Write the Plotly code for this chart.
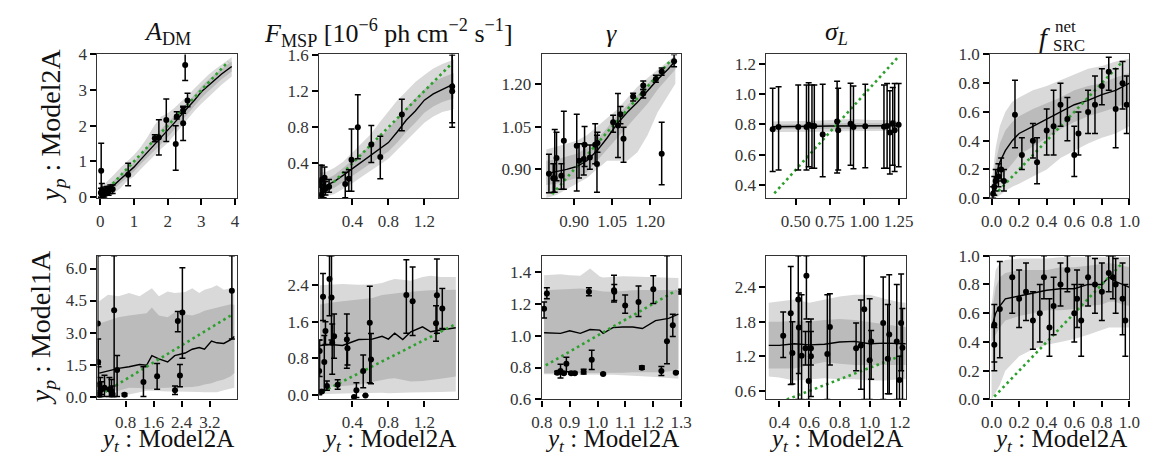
import plotly.graph_objects as go
import numpy as np

W, H = 1156, 459
FONT = "Liberation Serif"
LIGHT = "#d9d9d9"
DARK = "#bbbbbb"
GREEN = "#2ca02c"

# ---------------- data ----------------
# Panel 1: A_DM, Model2A vs Model2A
p1_bx = [0.0, 0.2, 0.4, 0.6, 0.8, 1.0, 1.2, 1.4, 1.6, 1.8, 2.0, 2.2, 2.4, 2.6, 2.8, 3.0, 3.2, 3.4, 3.6, 3.9]
p1_med = [0.05, 0.18, 0.33, 0.50, 0.68, 0.84, 1.05, 1.25, 1.45, 1.65, 1.87, 2.08, 2.30, 2.50, 2.72, 2.95, 3.12, 3.30, 3.45, 3.66]
p1_hi95 = [0.25, 0.45, 0.62, 0.82, 1.0, 1.18, 1.4, 1.68, 2.0, 2.25, 2.35, 2.5, 2.68, 2.85, 3.05, 3.25, 3.42, 3.58, 3.72, 3.92]
p1_lo95 = [-0.03, 0.0, 0.1, 0.25, 0.45, 0.58, 0.78, 0.98, 1.15, 1.35, 1.52, 1.75, 1.98, 2.2, 2.42, 2.62, 2.8, 2.98, 3.15, 3.38]
p1_hi68 = [0.15, 0.3, 0.45, 0.62, 0.82, 0.98, 1.2, 1.42, 1.65, 1.9, 2.08, 2.28, 2.48, 2.66, 2.88, 3.1, 3.28, 3.45, 3.6, 3.8]
p1_lo68 = [0.0, 0.08, 0.22, 0.38, 0.55, 0.72, 0.92, 1.1, 1.28, 1.48, 1.68, 1.9, 2.12, 2.34, 2.56, 2.78, 2.96, 3.14, 3.3, 3.52]
p1_px = [0.02, 0.03, 0.05, 0.08, 0.12, 0.15, 0.2, 0.25, 0.3, 0.37, 0.83, 1.62, 1.74, 1.96, 2.24, 2.27, 2.46, 2.46, 2.52, 2.59]
p1_py = [0.12, 0.74, 0.2, 0.06, 0.1, 0.16, 0.2, 0.18, 0.22, 0.22, 0.63, 1.65, 1.67, 2.16, 1.49, 2.26, 2.07, 2.43, 3.70, 2.71]
p1_plo = [0.0, -0.02, 0.05, 0.0, 0.0, 0.05, 0.08, 0.05, 0.1, 0.1, 0.32, 1.55, 1.18, 1.56, 0.75, 2.19, 1.59, 2.35, 3.27, 2.53]
p1_phi = [0.25, 1.51, 0.38, 0.15, 0.22, 0.28, 0.3, 0.3, 0.34, 0.34, 0.95, 1.75, 2.17, 2.75, 2.0, 2.39, 2.55, 2.52, 4.15, 2.91]
p1_diag = [0.25, 3.8]

# Panel 2: F_MSP
p2_bx = [0.04, 0.1, 0.2, 0.3, 0.4, 0.5, 0.6, 0.7, 0.8, 0.9, 1.0, 1.1, 1.2, 1.3, 1.4, 1.53]
p2_med = [0.12, 0.15, 0.2, 0.27, 0.34, 0.41, 0.48, 0.55, 0.63, 0.75, 0.88, 0.98, 1.1, 1.17, 1.22, 1.28]
p2_hi95 = [0.3, 0.3, 0.35, 0.42, 0.52, 0.62, 0.72, 0.85, 0.98, 1.1, 1.2, 1.3, 1.38, 1.45, 1.5, 1.55]
p2_lo95 = [0.02, 0.03, 0.06, 0.12, 0.18, 0.25, 0.32, 0.38, 0.45, 0.55, 0.65, 0.75, 0.85, 0.92, 0.97, 1.0]
p2_hi68 = [0.2, 0.22, 0.27, 0.35, 0.43, 0.52, 0.6, 0.68, 0.78, 0.9, 1.02, 1.12, 1.22, 1.3, 1.35, 1.4]
p2_lo68 = [0.06, 0.08, 0.13, 0.2, 0.26, 0.33, 0.4, 0.46, 0.53, 0.63, 0.75, 0.85, 0.96, 1.03, 1.08, 1.12]
p2_px = [0.04, 0.05, 0.06, 0.08, 0.09, 0.1, 0.14, 0.32, 0.36, 0.39, 0.46, 0.61, 0.71, 0.95, 1.51, 1.51]
p2_py = [0.16, 0.05, 0.22, 0.1, 0.24, 0.12, 0.14, 0.17, 0.23, 0.44, 0.80, 0.61, 0.47, 0.94, 1.2, 1.25]
p2_plo = [0.0, 0.0, 0.05, 0.02, 0.1, 0.05, 0.08, 0.02, 0.09, 0.09, 0.45, 0.41, 0.23, 0.76, 0.8, 0.85]
p2_phi = [0.38, 0.2, 0.38, 0.2, 0.36, 0.2, 0.22, 0.3, 0.33, 0.78, 1.16, 0.82, 0.70, 1.11, 1.62, 1.6]
p2_diag = [0.05, 1.51]

# Panel 3: gamma
p3_bx = [0.79, 0.83, 0.87, 0.91, 0.95, 0.99, 1.03, 1.07, 1.11, 1.15, 1.19, 1.23, 1.27, 1.30]
p3_med = [0.885, 0.892, 0.9, 0.91, 0.93, 0.965, 1.01, 1.06, 1.1, 1.135, 1.175, 1.215, 1.25, 1.28]
p3_hi95 = [0.97, 0.98, 0.99, 1.0, 1.02, 1.05, 1.08, 1.11, 1.15, 1.19, 1.22, 1.25, 1.28, 1.3]
p3_lo95 = [0.8, 0.81, 0.83, 0.85, 0.87, 0.9, 0.93, 0.93, 0.93, 0.96, 1.02, 1.1, 1.16, 1.2]
p3_hi68 = [0.93, 0.935, 0.945, 0.955, 0.975, 1.005, 1.045, 1.09, 1.125, 1.16, 1.2, 1.235, 1.27, 1.295]
p3_lo68 = [0.845, 0.85, 0.86, 0.87, 0.89, 0.93, 0.97, 1.01, 1.05, 1.09, 1.13, 1.18, 1.22, 1.25]
p3_px = [0.80, 0.817, 0.823, 0.83, 0.849, 0.859, 0.91, 0.919, 0.938, 0.941, 0.962, 0.983, 0.99, 0.992, 1.054, 1.073, 1.083, 1.095, 1.133, 1.173, 1.173, 1.223, 1.246, 1.246, 1.295]
p3_py = [0.885, 0.869, 0.869, 0.94, 0.878, 1.0, 0.983, 0.93, 0.936, 0.986, 0.942, 0.986, 0.919, 0.992, 1.065, 1.054, 1.093, 1.007, 1.155, 1.194, 1.166, 1.217, 1.243, 0.955, 1.279]
p3_plo = [0.818, 0.82, 0.82, 0.86, 0.83, 0.83, 0.824, 0.87, 0.88, 0.91, 0.9, 0.92, 0.82, 0.96, 1.03, 0.942, 1.06, 0.925, 1.14, 1.18, 1.15, 1.205, 1.23, 0.846, 1.26]
p3_phi = [0.953, 0.92, 1.04, 1.03, 0.92, 1.104, 1.093, 0.99, 0.99, 1.05, 0.985, 1.06, 1.02, 1.03, 1.09, 1.166, 1.12, 1.048, 1.167, 1.21, 1.18, 1.23, 1.255, 1.065, 1.303]
p3_diag = [0.813, 1.278]

# Panel 4: sigma_L
p4_bx = [0.33, 0.45, 0.55, 0.65, 0.75, 0.85, 0.95, 1.05, 1.15, 1.25]
p4_med = [0.785, 0.785, 0.787, 0.788, 0.79, 0.79, 0.79, 0.79, 0.79, 0.792]
p4_hi95 = [0.82, 0.82, 0.82, 0.825, 0.83, 0.835, 0.835, 0.83, 0.83, 0.825]
p4_lo95 = [0.75, 0.75, 0.752, 0.752, 0.752, 0.755, 0.755, 0.755, 0.755, 0.758]
p4_hi68 = [0.8, 0.8, 0.802, 0.805, 0.808, 0.81, 0.81, 0.808, 0.808, 0.808]
p4_lo68 = [0.77, 0.77, 0.772, 0.772, 0.772, 0.772, 0.772, 0.772, 0.772, 0.775]
p4_px = [0.333, 0.376, 0.519, 0.579, 0.595, 0.619, 0.636, 0.697, 0.802, 0.81, 0.9, 0.921, 1.007, 1.143, 1.166, 1.186, 1.207, 1.221, 1.25]
p4_py = [0.768, 0.783, 0.783, 0.783, 0.798, 0.79, 0.79, 0.734, 0.819, 0.762, 0.804, 0.783, 0.789, 0.785, 0.79, 0.747, 0.808, 0.762, 0.798]
p4_plo = [0.49, 0.5, 0.5, 0.5, 0.52, 0.51, 0.51, 0.455, 0.48, 0.5, 0.53, 0.508, 0.514, 0.51, 0.51, 0.472, 0.53, 0.49, 0.52]
p4_phi = [1.04, 1.05, 1.06, 1.06, 1.075, 1.06, 1.06, 1.065, 1.086, 1.04, 1.073, 1.054, 1.065, 1.06, 1.07, 1.022, 1.045, 1.07, 1.07]
p4_diag = [0.345, 1.24]

# Panel 5: f_SRC^net
p5_bx = [0.0, 0.03, 0.06, 0.1, 0.15, 0.2, 0.3, 0.4, 0.5, 0.6, 0.7, 0.8, 0.9, 1.0]
p5_med = [0.02, 0.15, 0.25, 0.33, 0.4, 0.45, 0.5, 0.55, 0.6, 0.65, 0.68, 0.72, 0.75, 0.8]
p5_hi95 = [0.1, 0.35, 0.5, 0.6, 0.67, 0.7, 0.75, 0.78, 0.82, 0.86, 0.9, 0.92, 0.95, 0.97]
p5_lo95 = [0.0, 0.0, 0.02, 0.05, 0.08, 0.1, 0.15, 0.2, 0.28, 0.33, 0.38, 0.42, 0.45, 0.5]
p5_hi68 = [0.05, 0.25, 0.38, 0.47, 0.53, 0.57, 0.62, 0.66, 0.7, 0.75, 0.78, 0.8, 0.84, 0.87]
p5_lo68 = [0.0, 0.06, 0.12, 0.18, 0.24, 0.3, 0.36, 0.42, 0.48, 0.53, 0.57, 0.6, 0.63, 0.67]
p5_px = [0.01, 0.02, 0.03, 0.05, 0.07, 0.09, 0.17, 0.22, 0.3, 0.33, 0.4, 0.45, 0.5, 0.55, 0.6, 0.63, 0.7, 0.75, 0.8, 0.85, 0.9, 0.95, 0.98]
p5_py = [0.03, 0.08, 0.12, 0.15, 0.2, 0.12, 0.58, 0.3, 0.4, 0.25, 0.47, 0.5, 0.65, 0.55, 0.3, 0.45, 0.6, 0.65, 0.78, 0.88, 0.62, 0.8, 0.65]
p5_plo = [0.0, 0.02, 0.05, 0.08, 0.12, 0.05, 0.35, 0.2, 0.28, 0.1, 0.3, 0.3, 0.5, 0.4, 0.15, 0.3, 0.45, 0.45, 0.65, 0.75, 0.35, 0.62, 0.45]
p5_phi = [0.08, 0.15, 0.2, 0.24, 0.28, 0.2, 0.82, 0.42, 0.52, 0.42, 0.62, 0.75, 0.8, 0.7, 0.5, 0.6, 0.75, 0.85, 0.9, 0.98, 0.9, 0.95, 0.85]
p5_diag = [0.02, 0.95]

# Panel 6: A_DM, Model1A vs Model2A
p6_bx = [0.05, 0.3, 0.6, 0.9, 1.2, 1.4, 1.55, 1.75, 2.0, 2.2, 2.5, 2.7, 2.9, 3.05, 3.25, 3.4, 3.6, 3.8, 3.9]
p6_med = [1.1, 1.2, 1.32, 1.4, 1.5, 1.47, 1.92, 1.77, 1.62, 1.92, 2.04, 2.22, 2.3, 2.22, 2.6, 2.52, 2.49, 2.67, 2.82]
p6_hi95 = [4.47, 4.77, 4.7, 4.85, 4.7, 4.9, 5.07, 4.7, 4.92, 4.85, 4.9, 5.07, 4.85, 5.0, 5.1, 5.22, 5.0, 5.07, 5.0]
p6_hi68 = [3.42, 3.57, 3.72, 3.8, 3.87, 3.9, 4.17, 3.8, 3.72, 3.95, 3.85, 3.8, 3.9, 4.02, 4.1, 4.17, 4.25, 4.32, 4.3]
p6_lo68 = [0.42, 0.3, 0.27, 0.42, 0.4, 0.35, 0.35, 0.4, 0.42, 0.42, 0.42, 0.45, 0.5, 0.57, 0.62, 0.72, 0.8, 0.95, 1.1]
p6_lo95 = [0.05, 0.05, 0.05, 0.1, 0.2, 0.27, 0.27, 0.25, 0.24, 0.24, 0.24, 0.22, 0.22, 0.2, 0.2, 0.2, 0.3, 0.4, 0.42]
p6_px = [0.01, 0.02, 0.03, 0.04, 0.05, 0.08, 0.12, 0.2, 0.34, 0.4, 0.43, 0.475, 0.56, 0.77, 1.31, 1.7, 2.21, 2.29, 2.35, 2.42, 3.83]
p6_py = [3.42, 1.62, 0.57, 0.2, 0.1, 0.3, 0.35, 0.42, 0.35, 0.25, 0.12, 4.05, 1.25, 0.09, 0.68, 0.95, 0.3, 3.54, 0.99, 3.94, 4.96]
p6_plo = [1.5, 0.5, 0.0, 0.0, 0.0, 0.0, 0.1, 0.0, 0.0, 0.0, 0.0, 0.0, 0.0, 0.03, 0.0, 0.35, 0.1, 3.04, 0.46, 1.8, 2.7]
p6_phi = [6.6, 2.7, 1.4, 0.6, 0.4, 0.9, 0.7, 1.0, 0.9, 0.8, 0.5, 6.6, 1.92, 0.15, 1.4, 1.55, 0.5, 3.99, 1.5, 6.04, 6.6]
p6_diag = [0.08, 3.86]

# Panel 7: F_MSP
p7_bx = [0.04, 0.15, 0.29, 0.4, 0.47, 0.62, 0.73, 0.8, 0.87, 0.96, 1.05, 1.18, 1.27, 1.38, 1.55]
p7_med = [1.08, 1.1, 1.08, 1.15, 1.21, 1.22, 1.28, 1.22, 1.35, 1.21, 1.38, 1.49, 1.38, 1.42, 1.47]
p7_hi95 = [2.4, 2.42, 2.43, 2.42, 2.41, 2.42, 2.45, 2.5, 2.54, 2.52, 2.5, 2.58, 2.61, 2.58, 2.58]
p7_hi68 = [1.98, 2.02, 2.05, 2.07, 2.08, 2.12, 2.19, 2.2, 2.22, 2.24, 2.26, 2.28, 2.29, 2.3, 2.3]
p7_lo68 = [0.15, 0.17, 0.19, 0.21, 0.22, 0.28, 0.33, 0.35, 0.36, 0.32, 0.29, 0.3, 0.32, 0.35, 0.4]
p7_lo95 = [0.01, 0.02, 0.03, 0.03, 0.03, 0.04, 0.04, 0.03, 0.03, 0.04, 0.05, 0.05, 0.06, 0.06, 0.07]
p7_px = [0.03, 0.035, 0.058, 0.073, 0.087, 0.1, 0.116, 0.145, 0.167, 0.175, 0.196, 0.236, 0.338, 0.345, 0.418, 0.444, 0.52, 0.545, 0.593, 0.607, 1.0, 1.07, 1.33, 1.34, 1.4]
p7_py = [0.52, 0.96, 0.07, 2.15, 0.72, 1.4, 0.19, 2.54, 2.13, 1.14, 1.28, 0.22, 1.21, 1.02, -0.05, 0.1, 0.52, -0.02, 1.58, 0.77, 2.19, 2.05, 1.57, 2.18, 1.89]
p7_plo = [0.0, 0.4, 0.05, 1.63, 0.1, 1.1, 0.1, 1.73, 1.2, 0.45, 0.8, 0.12, 0.58, 0.65, -0.05, -0.06, 0.15, -0.02, 0.26, 0.24, 1.35, 1.3, 1.17, 1.35, 1.45]
p7_phi = [1.2, 1.2, 0.09, 2.66, 1.3, 1.6, 0.3, 3.05, 3.05, 1.55, 1.77, 0.33, 1.77, 1.35, -0.05, 0.26, 0.87, -0.02, 2.38, 1.34, 2.96, 2.8, 1.95, 2.98, 2.33]
p7_diag = [0.07, 1.53]

# Panel 8: gamma
p8_bx = [0.808, 0.84, 0.867, 0.9, 0.938, 0.973, 1.008, 1.02, 1.055, 1.09, 1.126, 1.161, 1.208, 1.255, 1.29]
p8_med = [1.018, 1.016, 1.014, 1.03, 1.014, 1.038, 1.034, 1.014, 1.05, 1.054, 1.054, 1.044, 1.094, 1.108, 1.134]
p8_hi95 = [1.378, 1.38, 1.384, 1.378, 1.374, 1.42, 1.37, 1.364, 1.37, 1.372, 1.37, 1.368, 1.365, 1.36, 1.36]
p8_hi68 = [1.284, 1.286, 1.29, 1.292, 1.294, 1.29, 1.28, 1.276, 1.274, 1.28, 1.284, 1.285, 1.284, 1.284, 1.284]
p8_lo68 = [0.764, 0.764, 0.765, 0.765, 0.766, 0.766, 0.766, 0.766, 0.768, 0.768, 0.77, 0.77, 0.77, 0.775, 0.79]
p8_lo95 = [0.758, 0.758, 0.758, 0.758, 0.758, 0.758, 0.758, 0.756, 0.755, 0.752, 0.75, 0.745, 0.74, 0.735, 0.73]
p8_px = [0.808, 0.818, 0.855, 0.867, 0.879, 0.888, 0.905, 0.918, 0.95, 0.969, 0.979, 1.02, 1.059, 1.06, 1.099, 1.147, 1.159, 1.2, 1.229, 1.249, 1.27, 1.281, 1.3]
p8_py = [1.168, 1.264, 0.768, 0.778, 0.764, 0.824, 0.764, 0.764, 0.774, 1.274, 0.848, 0.76, 1.284, 1.274, 1.188, 1.21, 0.798, 1.29, 0.778, 0.964, 1.064, 0.768, 1.274]
p8_plo = [1.11, 1.23, 0.76, 0.735, 0.76, 0.774, 0.76, 0.76, 0.76, 1.25, 0.788, 0.756, 1.21, 1.22, 1.14, 1.12, 0.79, 1.2, 0.75, 0.824, 0.994, 0.764, 1.26]
p8_phi = [1.21, 1.3, 0.776, 0.82, 0.77, 0.864, 0.77, 0.77, 0.79, 1.3, 0.908, 0.764, 1.378, 1.32, 1.254, 1.31, 0.81, 1.374, 0.806, 1.5, 1.134, 0.775, 1.29]
p8_diag = [0.814, 1.282]

# Panel 9: sigma_L
p9_bx = [0.33, 0.4, 0.5, 0.6, 0.7, 0.8, 0.9, 1.0, 1.1, 1.2, 1.24]
p9_med = [1.39, 1.39, 1.42, 1.4, 1.41, 1.45, 1.46, 1.42, 1.43, 1.42, 1.42]
p9_hi95 = [2.13, 2.15, 2.19, 2.13, 2.19, 2.24, 2.27, 2.27, 2.2, 2.14, 2.13]
p9_hi68 = [1.8, 1.8, 1.82, 1.8, 1.83, 1.85, 1.83, 1.8, 1.76, 1.72, 1.71]
p9_lo68 = [0.99, 0.99, 0.99, 1.05, 1.1, 1.07, 1.05, 1.05, 1.05, 1.05, 1.05]
p9_lo95 = [0.85, 0.83, 0.78, 0.8, 0.82, 0.8, 0.8, 0.78, 0.78, 0.8, 0.8]
p9_px = [0.426, 0.476, 0.487, 0.526, 0.53, 0.548, 0.574, 0.58, 0.595, 0.61, 0.61, 0.719, 0.736, 0.91, 0.942, 0.964, 1.0, 1.01, 1.09, 1.12, 1.13, 1.18, 1.198, 1.209, 1.218]
p9_py = [1.56, 1.95, 1.26, 2.19, 1.7, 1.21, 1.34, 2.6, 0.77, 1.34, 1.2, 1.24, 1.71, 1.34, 1.39, 2.02, 1.13, 1.46, 1.78, 1.16, 1.58, 1.46, 0.79, 1.78, 1.35]
p9_plo = [1.18, 0.71, 0.72, 0.45, 0.9, 0.45, 1.05, 1.85, 0.45, 1.05, 0.5, 0.45, 1.05, 0.95, 0.63, 0.45, 0.45, 0.8, 0.45, 0.55, 0.55, 0.45, 0.45, 0.95, 0.45]
p9_phi = [1.97, 2.76, 1.8, 2.95, 2.3, 2.27, 1.63, 2.95, 1.8, 1.63, 1.85, 2.27, 2.29, 1.78, 2.18, 2.95, 2.2, 1.65, 2.58, 2.1, 2.62, 2.45, 1.2, 2.63, 2.03]
p9_diag = [0.45, 1.22]

# Panel 10: f_SRC^net
p10_bx = [0.0, 0.03, 0.06, 0.1, 0.2, 0.3, 0.4, 0.5, 0.6, 0.7, 0.8, 0.85, 0.9, 0.95, 1.0]
p10_med = [0.5, 0.6, 0.65, 0.7, 0.72, 0.74, 0.76, 0.77, 0.77, 0.8, 0.8, 0.85, 0.82, 0.8, 0.78]
p10_hi95 = [0.65, 0.9, 0.95, 0.97, 0.98, 0.98, 0.98, 0.99, 0.99, 0.99, 0.99, 0.99, 0.99, 0.99, 0.99]
p10_hi68 = [0.58, 0.78, 0.85, 0.88, 0.9, 0.9, 0.9, 0.92, 0.92, 0.93, 0.94, 0.95, 0.94, 0.93, 0.92]
p10_lo68 = [0.4, 0.45, 0.5, 0.55, 0.58, 0.6, 0.62, 0.62, 0.63, 0.65, 0.66, 0.68, 0.68, 0.66, 0.65]
p10_lo95 = [0.0, 0.05, 0.1, 0.2, 0.3, 0.35, 0.38, 0.4, 0.42, 0.45, 0.48, 0.5, 0.5, 0.5, 0.5]
p10_px = [0.02, 0.02, 0.06, 0.15, 0.2, 0.25, 0.3, 0.35, 0.38, 0.42, 0.45, 0.5, 0.55, 0.6, 0.62, 0.65, 0.7, 0.75, 0.8, 0.85, 0.88, 0.9, 0.95, 0.97]
p10_py = [0.52, 0.38, 0.63, 0.85, 0.7, 0.75, 0.55, 0.6, 0.85, 0.5, 0.65, 0.8, 0.9, 0.6, 0.7, 0.55, 0.85, 0.8, 0.75, 0.88, 0.85, 0.8, 0.7, 0.55]
p10_plo = [0.26, 0.2, 0.29, 0.6, 0.5, 0.55, 0.35, 0.4, 0.7, 0.3, 0.45, 0.65, 0.75, 0.4, 0.5, 0.3, 0.65, 0.6, 0.55, 0.75, 0.7, 0.6, 0.45, 0.3]
p10_phi = [0.66, 0.5, 0.96, 1.0, 0.9, 0.95, 0.75, 0.8, 1.0, 0.7, 0.85, 0.95, 1.0, 0.8, 0.9, 0.8, 1.0, 0.98, 0.95, 1.0, 1.0, 0.98, 0.95, 0.8]
p10_diag = [0.02, 0.95]

# axis ranges and ticks
x_ranges = [[-0.08, 4.05], [0.03, 1.58], [0.772, 1.323], [0.288, 1.302], [-0.01, 1.0],
            [0.0, 3.97], [0.03, 1.58], [0.8, 1.3], [0.315, 1.24], [-0.01, 1.0]]
y_ranges = [[-0.03, 4.0], [0.014, 1.607], [0.799, 1.303], [0.313, 1.263], [0.0, 1.0],
            [-0.135, 6.6], [-0.105, 3.05], [0.6, 1.5], [0.45, 2.95], [0.0, 1.0]]
x_tickvals = [[0, 1, 2, 3, 4], [0.4, 0.8, 1.2], [0.90, 1.05, 1.20], [0.50, 0.75, 1.00, 1.25],
              [0.0, 0.2, 0.4, 0.6, 0.8, 1.0],
              [0.8, 1.6, 2.4, 3.2], [0.4, 0.8, 1.2], [0.8, 0.9, 1.0, 1.1, 1.2, 1.3],
              [0.4, 0.6, 0.8, 1.0, 1.2], [0.0, 0.2, 0.4, 0.6, 0.8, 1.0]]
x_ticktext = [["0", "1", "2", "3", "4"], ["0.4", "0.8", "1.2"], ["0.90", "1.05", "1.20"],
              ["0.50", "0.75", "1.00", "1.25"], ["0.0", "0.2", "0.4", "0.6", "0.8", "1.0"],
              ["0.8", "1.6", "2.4", "3.2"], ["0.4", "0.8", "1.2"],
              ["0.8", "0.9", "1.0", "1.1", "1.2", "1.3"],
              ["0.4", "0.6", "0.8", "1.0", "1.2"], ["0.0", "0.2", "0.4", "0.6", "0.8", "1.0"]]
y_tickvals = [[0, 1, 2, 3, 4], [0.4, 0.8, 1.2, 1.6], [0.90, 1.05, 1.20], [0.4, 0.6, 0.8, 1.0, 1.2],
              [0.0, 0.2, 0.4, 0.6, 0.8, 1.0],
              [0.0, 1.5, 3.0, 4.5, 6.0], [0.0, 0.8, 1.6, 2.4], [0.6, 0.8, 1.0, 1.2, 1.4],
              [0.6, 1.2, 1.8, 2.4], [0.0, 0.2, 0.4, 0.6, 0.8, 1.0]]
y_ticktext = [["0", "1", "2", "3", "4"], ["0.4", "0.8", "1.2", "1.6"], ["0.90", "1.05", "1.20"],
              ["0.4", "0.6", "0.8", "1.0", "1.2"], ["0.0", "0.2", "0.4", "0.6", "0.8", "1.0"],
              ["0.0", "1.5", "3.0", "4.5", "6.0"], ["0.0", "0.8", "1.6", "2.4"],
              ["0.6", "0.8", "1.0", "1.2", "1.4"], ["0.6", "1.2", "1.8", "2.4"],
              ["0.0", "0.2", "0.4", "0.6", "0.8", "1.0"]]

col_titles = ["<i>A</i><sub>DM</sub>",
              "<i>F</i><sub>MSP</sub> [10<sup>−6</sup> ph cm<sup>−2</sup> s<sup>−1</sup>]",
              "<i>γ</i>", "<i>σ</i><sub><i>L</i></sub>", None]
row_labels = ["<i>y</i><sub><i>p</i></sub> : Model2A", "<i>y</i><sub><i>p</i></sub> : Model1A"]
x_label = "<i>y</i><sub><i>t</i></sub> : Model2A"

panels = []
for k in range(1, 11):
    g = globals()
    panels.append(dict(bx=g[f"p{k}_bx"], med=g[f"p{k}_med"], hi95=g[f"p{k}_hi95"],
                       lo95=g[f"p{k}_lo95"], hi68=g[f"p{k}_hi68"], lo68=g[f"p{k}_lo68"],
                       px=g[f"p{k}_px"], py=g[f"p{k}_py"], plo=g[f"p{k}_plo"],
                       phi=g[f"p{k}_phi"], diag=g[f"p{k}_diag"]))

# ---------------- layout geometry (pixels) ----------------
col_left = [80, 306, 533, 762, 990]
pw = 142
row_top = [39, 249]
ph = 150

fig = go.Figure()
layout = dict(width=W, height=H, margin=dict(l=0, r=0, t=0, b=0),
              paper_bgcolor="white", plot_bgcolor="white", showlegend=False,
              font=dict(family=FONT, color="#222"))

for i, p in enumerate(panels):
    r, c = divmod(i, 5)
    xa = "x" if i == 0 else f"x{i+1}"
    ya = "y" if i == 0 else f"y{i+1}"
    common = dict(xaxis=xa, yaxis=ya, hoverinfo="skip")
    bx = p["bx"]
    fig.add_trace(go.Scatter(x=bx, y=p["lo95"], mode="lines", line=dict(width=0, color=LIGHT), **common))
    fig.add_trace(go.Scatter(x=bx, y=p["hi95"], mode="lines", line=dict(width=0, color=LIGHT),
                             fill="tonexty", fillcolor=LIGHT, **common))
    fig.add_trace(go.Scatter(x=bx, y=p["lo68"], mode="lines", line=dict(width=0, color=DARK), **common))
    fig.add_trace(go.Scatter(x=bx, y=p["hi68"], mode="lines", line=dict(width=0, color=DARK),
                             fill="tonexty", fillcolor=DARK, **common))
    fig.add_trace(go.Scatter(x=bx, y=p["med"], mode="lines", line=dict(width=1.4, color="black"), **common))
    fig.add_trace(go.Scatter(x=p["diag"], y=p["diag"], mode="lines",
                             line=dict(width=2.6, color=GREEN, dash="2.6px,3.4px"), **common))
    py = np.array(p["py"], float)
    fig.add_trace(go.Scatter(x=p["px"], y=py, mode="markers",
                             marker=dict(size=6, color="black"),
                             error_y=dict(type="data", symmetric=False,
                                          array=np.array(p["phi"]) - py,
                                          arrayminus=py - np.array(p["plo"]),
                                          color="black", thickness=1.5, width=3),
                             **common))

    x0 = col_left[c] / W
    x1 = (col_left[c] + pw) / W
    y1 = 1 - row_top[r] / H
    y0 = 1 - (row_top[r] + ph) / H
    axstyle = dict(showline=True, mirror=True, linecolor="#333", linewidth=1.2,
                   ticks="outside", ticklen=6, tickwidth=1.8, tickcolor="black",
                   showgrid=False, zeroline=False,
                   tickfont=dict(family=FONT, size=17, color="#333"))
    layout["xaxis" + ("" if i == 0 else str(i + 1))] = dict(
        domain=[x0, x1], range=x_ranges[i], anchor=ya, ticklabelstandoff=1,
        tickmode="array", tickvals=x_tickvals[i], ticktext=x_ticktext[i], **axstyle)
    layout["yaxis" + ("" if i == 0 else str(i + 1))] = dict(
        domain=[y0, y1], range=y_ranges[i], anchor=xa,
        tickmode="array", tickvals=y_tickvals[i], ticktext=y_ticktext[i], **axstyle)

fig.update_layout(**layout)

ann = []
for c in range(5):
    cx = (col_left[c] + pw / 2) / W
    if col_titles[c]:
        ann.append(dict(text=col_titles[c], x=cx, y=1 - 17 / H, xref="paper", yref="paper",
                        xanchor="center", yanchor="middle", showarrow=False,
                        font=dict(family=FONT, size=26, color="#111")))
    ann.append(dict(text=x_label, x=cx, y=0, xref="paper", yref="paper",
                    xanchor="center", yanchor="bottom", showarrow=False, borderpad=0,
                    font=dict(family=FONT, size=25, color="#111")))
# f_SRC^net title built from pieces (stacked sub/superscript)
fx = col_left[4] + pw / 2
ann.append(dict(text="<i>f</i>", x=(fx - 8) / W, y=1 - 21 / H, xref="paper", yref="paper",
                xanchor="right", yanchor="middle", showarrow=False,
                font=dict(family=FONT, size=28, color="#111")))
ann.append(dict(text="net", x=(fx - 7) / W, y=1 - 10 / H, xref="paper", yref="paper",
                xanchor="left", yanchor="middle", showarrow=False,
                font=dict(family=FONT, size=17, color="#111")))
ann.append(dict(text="SRC", x=(fx - 9) / W, y=1 - 30 / H, xref="paper", yref="paper",
                xanchor="left", yanchor="middle", showarrow=False,
                font=dict(family=FONT, size=17, color="#111")))
for r, lab in enumerate(row_labels):
    cy = 1 - (row_top[r] + ph / 2) / H
    ann.append(dict(text=lab, x=(34 if r == 0 else 24) / W, y=cy, xref="paper", yref="paper",
                    xanchor="center", yanchor="middle", textangle=-90, showarrow=False,
                    font=dict(family=FONT, size=28, color="#111")))
fig.update_layout(annotations=ann)

fig.write_html("out.html")
